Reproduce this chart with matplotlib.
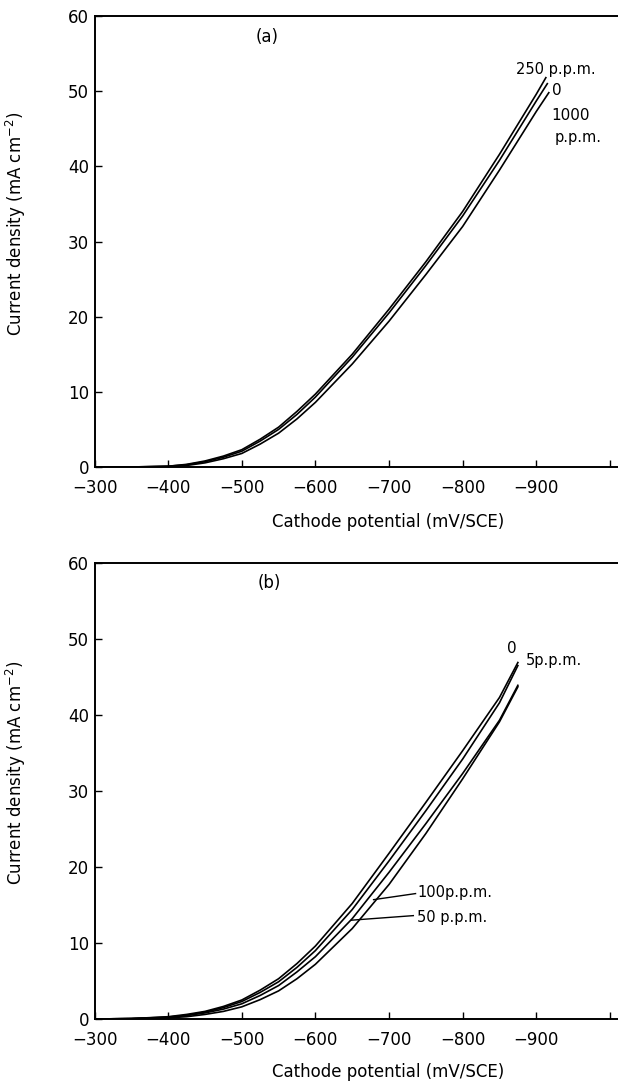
import matplotlib.pyplot as plt

# panel (a): cathode potential (mV/SCE) vs current density (mA cm-2)
pot_a = [-300, -350, -400, -425, -450, -475, -500, -525, -550, -575, -600,
         -650, -700, -750, -800, -850, -900]
cd_a_250 = [0, 0, 0.1, 0.35, 0.8, 1.45, 2.3, 3.7, 5.3, 7.4, 9.7,
            15.0, 21.0, 27.3, 34.0, 41.6, 49.6]
cd_a_0 = [0, 0, 0.1, 0.3, 0.7, 1.3, 2.1, 3.45, 5.0, 7.0, 9.3,
          14.6, 20.5, 26.8, 33.4, 40.8, 48.7]
cd_a_1000 = [0, 0, 0.05, 0.2, 0.55, 1.1, 1.8, 3.05, 4.5, 6.4, 8.6,
             13.7, 19.4, 25.6, 32.0, 39.5, 47.3]
end_a = [(-913, 51.8), (-915, 51.0), (-917, 49.8)]

# panel (b)
pot_b = [-300, -350, -400, -425, -450, -475, -500, -525, -550, -575, -600,
         -650, -700, -750, -800, -850, -875]
cd_b_0 = [0, 0.05, 0.3, 0.6, 1.0, 1.65, 2.5, 3.8, 5.3, 7.3, 9.6,
          15.2, 21.8, 28.5, 35.3, 42.3, 46.9]
cd_b_5 = [0, 0.05, 0.25, 0.5, 0.9, 1.5, 2.3, 3.5, 4.9, 6.8, 9.0,
          14.4, 20.8, 27.4, 34.2, 41.6, 46.5]
cd_b_50 = [0, 0.05, 0.2, 0.45, 0.8, 1.3, 2.0, 3.1, 4.4, 6.2, 8.2,
           13.2, 19.3, 25.7, 32.3, 39.3, 43.9]
cd_b_100 = [0, 0.05, 0.15, 0.3, 0.6, 1.0, 1.6, 2.55, 3.7, 5.3, 7.2,
            11.9, 17.7, 24.4, 31.6, 39.1, 43.7]

xticks = [-300, -400, -500, -600, -700, -800, -900, -1000]
xtick_labels = ['\u2212300', '\u2212400', '\u2212500', '\u2212600', '\u2212700', '\u2212800', '\u2212900', '']
yticks = [0, 10, 20, 30, 40, 50, 60]

plt.rcParams['font.family'] = ['DejaVu Sans']
fs = 12

fig = plt.figure(figsize=(6.18, 10.83), dpi=100)
ax_a = fig.add_axes([0.153, 0.5688, 0.847, 0.4164])
ax_b = fig.add_axes([0.153, 0.0591, 0.847, 0.4211])


def style(ax, xlab_y):
    ax.set_xlim(-300, -1011)
    ax.set_ylim(0, 60)
    ax.set_xticks(xticks)
    ax.set_xticklabels(xtick_labels, fontsize=fs)
    ax.set_yticks(yticks)
    ax.set_yticklabels([str(v) for v in yticks], fontsize=fs)
    ax.tick_params(direction='in', length=5, width=1)
    ax.tick_params(axis='x', pad=9)
    ax.tick_params(axis='y', pad=4)
    ax.spines['right'].set_visible(False)
    for s in ['left', 'top', 'bottom']:
        ax.spines[s].set_linewidth(1.4)
    ax.set_xlabel('Cathode potential (mV/SCE)', fontsize=fs)
    ax.xaxis.set_label_coords(0.56, xlab_y)
    ax.set_ylabel('Current density (mA cm$^{-2}$)', fontsize=fs)
    ax.yaxis.set_label_coords(-0.127, 0.54)


# (a)
for cd, end in zip([cd_a_250, cd_a_0, cd_a_1000], end_a):
    ax_a.plot(pot_a + [end[0]], cd + [end[1]], color='black', lw=1.2)
style(ax_a, -0.102)
ax_a.text(-534, 57.2, '(a)', fontsize=fs, ha='center', va='center')
ax_a.text(-872, 52.9, '250 p.p.m.', fontsize=fs - 1.5, ha='left', va='center')
ax_a.text(-921, 50.1, '0', fontsize=fs - 1, ha='left', va='center')
ax_a.text(-921, 46.7, '1000', fontsize=fs - 1, ha='left', va='center')
ax_a.text(-925, 43.9, 'p.p.m.', fontsize=fs - 1.5, ha='left', va='center')

# (b)
for cd in [cd_b_0, cd_b_5, cd_b_50, cd_b_100]:
    ax_b.plot(pot_b, cd, color='black', lw=1.2)
style(ax_b, -0.097)
ax_b.text(-537, 57.4, '(b)', fontsize=fs, ha='center', va='center')
ax_b.text(-867, 48.8, '0', fontsize=fs - 1, ha='center', va='center')
ax_b.text(-886, 47.2, '5p.p.m.', fontsize=fs - 1.5, ha='left', va='center')
ax_b.plot([-679, -736], [15.7, 16.5], color='black', lw=1)
ax_b.text(-738, 16.6, '100p.p.m.', fontsize=fs - 1.5, ha='left', va='center')
ax_b.plot([-649, -733], [13.0, 13.6], color='black', lw=1)
ax_b.text(-738, 13.3, '50 p.p.m.', fontsize=fs - 1.5, ha='left', va='center')

fig.savefig('out.png', dpi=100)
